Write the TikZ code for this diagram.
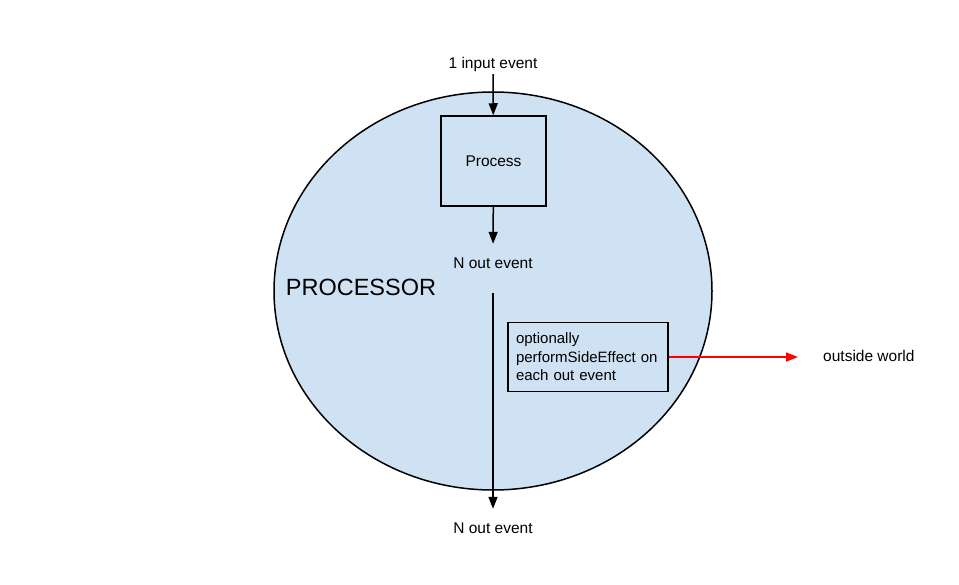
\documentclass[tikz,border=0pt]{standalone}
\usepackage{fontspec}
\setmainfont{Liberation Sans}
\usetikzlibrary{arrows.meta,shapes.geometric}
\definecolor{procblue}{HTML}{CFE2F3}
\begin{document}
\begin{tikzpicture}[x=1pt,y=-1pt,
  lbl/.style={inner sep=0pt,text height=11pt,text depth=3pt,font=\fontsize{15.5}{18}\selectfont},
  boxed/.style={draw=black,line width=1.5pt,fill=procblue},
  conn/.style={line width=1.5pt,-{Triangle[length=12pt,width=9pt]}},
  redconn/.style={draw=red,line width=1.7pt,-{Triangle[length=12pt,width=9pt]},red}]
\useasboundingbox (0,0) rectangle (959,584);
\node[ellipse,draw=black,line width=1.5pt,fill=procblue,minimum width=438pt,minimum height=398pt,inner sep=0pt] (proc) at (493,291) {};
\node[font=\fontsize{23.5}{26}\selectfont,inner sep=0pt] (proclbl) at (361,287) {PROCESSOR};
\node[lbl] (input) at (493,64) {1 input event};
\node[boxed,minimum width=105pt,minimum height=90pt,inner sep=0pt,font=\fontsize{15.5}{18}\selectfont] (process) at (493.5,161) {Process};
\node[lbl] (nout1) at (493,264) {N out event};
\node[lbl] (nout2) at (493,529) {N out event};
\node[boxed,minimum width=160pt,minimum height=69pt,text width=144pt,inner xsep=8pt,inner ysep=0pt,align=left,font=\fontsize{15}{18.5}\selectfont] (side) at (588,357) {optionally\\performSideEffect on\\each out event};
\node[lbl,anchor=west] (outside) at (823,357) {outside world};
\draw[conn,shorten <=3pt] (input) -- (process);
\draw[conn,shorten >=13pt] (process) -- (nout1);
\draw[conn,shorten <=22pt,shorten >=13pt] (nout1) -- (nout2);
\draw[redconn,shorten >=25pt] (side.east) -- (outside.west);
\end{tikzpicture}
\end{document}
